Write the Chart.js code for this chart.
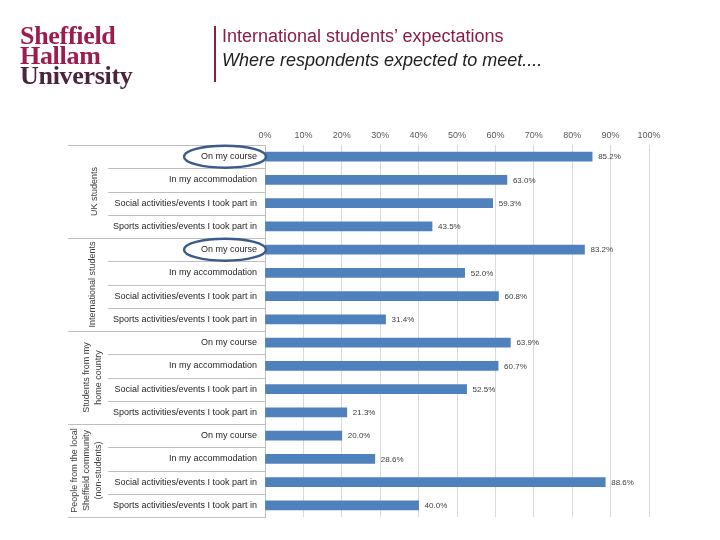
<!DOCTYPE html>
<html>
<head>
<meta charset="utf-8">
<script src="https://cdn.jsdelivr.net/npm/chart.js@4"></script>
<style>
  body { margin: 0; background: #fff; }
  #wrap { position: relative; width: 720px; height: 540px; overflow: hidden; }
  #c { position: absolute; left: 0; top: 0; }
  .logo { position: absolute; left: 20px; top: 26px; font-family: "Liberation Serif", serif; font-weight: bold; font-size: 26px; line-height: 20px; color: #9e1b50; letter-spacing: -0.3px; }
  .logo .u { color: #4b2540; }
  .bar { position: absolute; left: 214px; top: 26px; width: 2px; height: 56px; background: #8c1c4a; }
  .t1 { position: absolute; left: 222px; top: 26px; font-family: "Liberation Sans", Arial, sans-serif; font-size: 18px; color: #8c1c4a; }
  .t2 { position: absolute; left: 222px; top: 50px; font-family: "Liberation Sans", Arial, sans-serif; font-size: 18px; font-style: italic; color: #222; }
</style>
</head>
<body>
<div id="wrap">
  <canvas id="c" width="720" height="540"></canvas>
  <div class="logo">Sheffield<br>Hallam<br><span class="u">University</span></div>
  <div class="bar"></div>
  <div class="t1">International students’ expectations</div>
  <div class="t2">Where respondents expected to meet....</div>
</div>
<script>
// data
const places = ['On my course', 'In my accommodation', 'Social activities/events I took part in', 'Sports activities/events I took part in'];
const groups = [
  ['UK students'],
  ['International students'],
  ['Students from my', 'home country'],
  ['People from the local', 'Sheffield community', '(non-students)']
];
const ukStudents = [85.2, 63.0, 59.3, 43.5];
const intlStudents = [83.2, 52.0, 60.8, 31.4];
const homeCountry = [63.9, 60.7, 52.5, 21.3];
const localPeople = [20.0, 28.6, 88.6, 40.0];
const circledRows = [0, 4];

const labels = [];
groups.forEach(() => places.forEach(p => labels.push(p)));
const values = [].concat(ukStudents, intlStudents, homeCountry, localPeople);

const FONT = '"Liberation Sans", Arial, sans-serif';

// table lines, group labels, ellipses and value labels
const extras = {
  id: 'extras',
  afterDatasetsDraw(chart) {
    const ctx = chart.ctx;
    const area = chart.chartArea;
    const y = chart.scales.y;
    const x = chart.scales.x;
    const n = labels.length;
    const rowH = (area.bottom - area.top) / n;
    ctx.save();

    // row separators in label area
    ctx.strokeStyle = '#bfbfbf';
    ctx.lineWidth = 1;
    for (let i = 0; i <= n; i++) {
      const yy = Math.round(area.top + i * rowH) + 0.5;
      const left = (i % 4 === 0) ? 68 : 108;
      ctx.beginPath();
      ctx.moveTo(left, yy);
      ctx.lineTo(area.left, yy);
      ctx.stroke();
    }

    // group labels, rotated
    ctx.fillStyle = '#404040';
    ctx.font = '9px ' + FONT;
    ctx.textAlign = 'center';
    ctx.textBaseline = 'middle';
    const centres = [95, 93, 93, 87];
    groups.forEach((lines, g) => {
      const cy = area.top + (g * 4 + 2) * rowH;
      ctx.save();
      ctx.translate(centres[g], cy);
      ctx.rotate(-Math.PI / 2);
      lines.forEach((t, k) => {
        const off = (k - (lines.length - 1) / 2) * 12;
        ctx.fillText(t, 0, off);
      });
      ctx.restore();
    });

    // value labels
    ctx.fillStyle = '#404040';
    ctx.font = '8px ' + FONT;
    ctx.textAlign = 'left';
    values.forEach((v, i) => {
      ctx.fillText(v.toFixed(1) + '%', x.getPixelForValue(v) + 6, y.getPixelForValue(i) + 0.5);
    });

    // ellipses round "On my course"
    ctx.strokeStyle = '#3c5b8c';
    ctx.lineWidth = 2.5;
    circledRows.forEach(i => {
      const cy = y.getPixelForValue(i);
      ctx.beginPath();
      ctx.ellipse(area.left - 40, cy, 41, 11, 0, 0, Math.PI * 2);
      ctx.stroke();
    });
    ctx.restore();
  }
};

new Chart(document.getElementById('c').getContext('2d'), {
  type: 'bar',
  data: {
    labels: labels,
    datasets: [{
      data: values,
      backgroundColor: '#4f81bd',
      barThickness: 9
    }]
  },
  options: {
    indexAxis: 'y',
    responsive: false,
    animation: false,
    layout: { padding: { left: 60, right: 71, top: 118, bottom: 23 } },
    plugins: { legend: { display: false }, tooltip: { enabled: false } },
    scales: {
      x: {
        position: 'top',
        min: 0,
        max: 100,
        ticks: {
          stepSize: 10,
          callback: v => v + '%',
          color: '#595959',
          font: { family: FONT, size: 9 },
          padding: 4,
          maxRotation: 0
        },
        grid: { color: '#d9d9d9', drawTicks: false },
        border: { display: false },
        afterFit: s => { s.height = 27; }
      },
      y: {
        ticks: {
          color: '#262626',
          font: { family: FONT, size: 9 },
          padding: 0,
          autoSkip: false
        },
        grid: { display: false },
        border: { color: '#bfbfbf' },
        afterFit: s => { s.width = 205; }
      }
    }
  },
  plugins: [extras]
});
</script>
</body>
</html>
